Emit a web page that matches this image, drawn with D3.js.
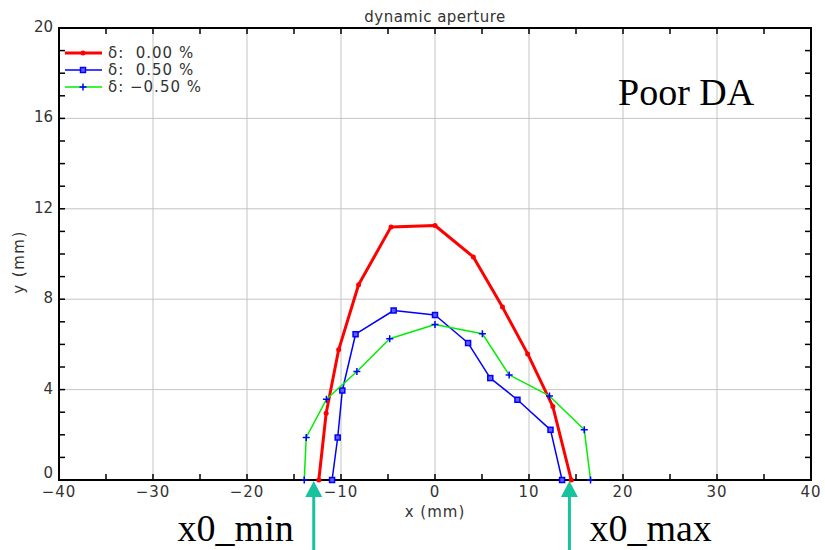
<!DOCTYPE html>
<html>
<head>
<meta charset="utf-8">
<script src="https://cdnjs.cloudflare.com/ajax/libs/d3/7.8.5/d3.min.js"></script>
<style>
  body { margin: 0; background: #fff; }
  .sans { font-family: "DejaVu Sans", sans-serif; }
  .serif { font-family: "Liberation Serif", "Times New Roman", serif; }
</style>
</head>
<body>
<svg id="chart" width="825" height="550"></svg>
<script>
// Data (x in mm, y in mm)
const redX   = [-12.36, -11.58, -10.25, -8.13, -4.68, 0, 4.08, 7.18, 9.86, 12.54, 14.5];
const redY   = [0, 2.95, 5.76, 8.64, 11.2, 11.26, 9.87, 7.65, 5.58, 3.25, 0];
const blueX  = [-10.95, -10.35, -9.86, -8.45, -4.40, 0, 3.52, 5.88, 8.77, 12.29, 13.52];
const blueY  = [0, 1.88, 3.96, 6.45, 7.50, 7.30, 6.06, 4.51, 3.55, 2.22, 0];
const greenX = [-13.91, -13.70, -11.55, -8.31, -4.82, 0, 5.04, 7.89, 12.18, 15.88, 16.55];
const greenY = [0, 1.88, 3.57, 4.80, 6.25, 6.88, 6.47, 4.65, 3.72, 2.22, 0];
const seriesNames = ["δ:  0.00 %", "δ:  0.50 %", "δ: −0.50 %"];
const xTicks = [-40, -30, -20, -10, 0, 10, 20, 30, 40];
const yTicks = [0, 4, 8, 12, 16, 20];
const arrowX = [-12.9, 14.3];
const arrowLabels = ["x0_min", "x0_max"];

const svg = d3.select("#chart");
const margin = { top: 28, right: 14, bottom: 70, left: 59 };
const width = 825 - margin.left - margin.right;
const height = 550 - margin.top - margin.bottom;

const g = svg.append("g")
  .attr("transform", `translate(${margin.left},${margin.top})`);

const x = d3.scaleLinear().domain([-40, 40]).range([0, width]);
const y = d3.scaleLinear().domain([0, 20]).range([height, 0]);

// Grid
g.append("g")
  .selectAll("line")
  .data(xTicks.slice(1, -1))
  .join("line")
  .attr("x1", d => x(d)).attr("x2", d => x(d))
  .attr("y1", 0).attr("y2", height)
  .attr("stroke", "#c4c4c4").attr("stroke-width", 1);
g.append("g")
  .selectAll("line")
  .data(yTicks.slice(1, -1))
  .join("line")
  .attr("x1", 0).attr("x2", width)
  .attr("y1", d => y(d)).attr("y2", d => y(d))
  .attr("stroke", "#c4c4c4").attr("stroke-width", 1);

// Frame ticks (inward), minor every 5 on x, every 1 on y
const xMinor = d3.range(-35, 40, 5);
const yMinor = d3.range(1, 20, 1);
const tickLen = 6;
const ticks = g.append("g").attr("stroke", "#000").attr("stroke-width", 1.5);
xMinor.forEach(v => {
  ticks.append("line").attr("x1", x(v)).attr("x2", x(v)).attr("y1", height).attr("y2", height - tickLen);
  ticks.append("line").attr("x1", x(v)).attr("x2", x(v)).attr("y1", 0).attr("y2", tickLen);
});
yMinor.forEach(v => {
  ticks.append("line").attr("x1", 0).attr("x2", tickLen).attr("y1", y(v)).attr("y2", y(v));
  ticks.append("line").attr("x1", width).attr("x2", width - tickLen).attr("y1", y(v)).attr("y2", y(v));
});

// Frame
g.append("rect")
  .attr("width", width).attr("height", height)
  .attr("fill", "none").attr("stroke", "#000").attr("stroke-width", 2);

// Tick labels
g.append("g")
  .selectAll("text")
  .data(xTicks)
  .join("text")
  .attr("class", "sans")
  .attr("x", d => x(d)).attr("y", height + 17)
  .attr("text-anchor", "middle")
  .attr("font-size", 15).attr("fill", "#333").attr("letter-spacing", 1)
  .text(d => d < 0 ? "−" + Math.abs(d) : d);
g.append("g")
  .selectAll("text")
  .data(yTicks)
  .join("text")
  .attr("class", "sans")
  .attr("x", -6).attr("y", d => y(d) + (d === 0 ? -2 : 4))
  .attr("text-anchor", "end")
  .attr("font-size", 15).attr("fill", "#333")
  .text(d => d);

// Axis labels and title
svg.append("text").attr("class", "sans")
  .attr("x", margin.left + x(0)).attr("y", 517)
  .attr("text-anchor", "middle").attr("font-size", 15).attr("fill", "#333")
  .attr("letter-spacing", 1)
  .text("x (mm)");
svg.append("text").attr("class", "sans")
  .attr("transform", "translate(24,262) rotate(-90)")
  .attr("text-anchor", "middle").attr("font-size", 15).attr("fill", "#333")
  .attr("letter-spacing", 1.5)
  .text("y (mm)");
svg.append("text").attr("class", "sans")
  .attr("x", margin.left + x(0)).attr("y", 22)
  .attr("text-anchor", "middle").attr("font-size", 15).attr("fill", "#333")
  .attr("letter-spacing", 0.5)
  .text("dynamic aperture");

// Series
const series = [
  { xs: redX, ys: redY, color: "#ff0000", w: 3, marker: "dot" },
  { xs: blueX, ys: blueY, color: "#0000ff", w: 1.5, marker: "square" },
  { xs: greenX, ys: greenY, color: "#00ee00", w: 1.5, marker: "plus" }
];
const line = d3.line().x(d => x(d[0])).y(d => y(d[1]));

function drawMarker(sel, type, cx, cy) {
  if (type === "dot") {
    sel.append("circle").attr("cx", cx).attr("cy", cy).attr("r", 2.5).attr("fill", "#ff0000");
  } else if (type === "square") {
    sel.append("rect").attr("x", cx - 2.5).attr("y", cy - 2.5).attr("width", 5).attr("height", 5)
      .attr("fill", "#6060ff").attr("stroke", "#0000ff").attr("stroke-width", 1.5);
  } else {
    sel.append("path").attr("d", `M${cx - 3.5},${cy}H${cx + 3.5}M${cx},${cy - 3.5}V${cy + 3.5}`)
      .attr("stroke", "#0000ff").attr("stroke-width", 1.5);
  }
}

series.forEach(s => {
  const pts = s.xs.map((v, i) => [v, s.ys[i]]);
  g.append("path").datum(pts)
    .attr("fill", "none").attr("stroke", s.color).attr("stroke-width", s.w)
    .attr("stroke-linejoin", "round")
    .attr("d", line);
  const mg = g.append("g");
  pts.forEach(p => drawMarker(mg, s.marker, x(p[0]), y(p[1])));
});

// Legend
const legend = svg.append("g");
series.forEach((s, i) => {
  const ly = 53 + i * 17;
  legend.append("line").attr("x1", 65).attr("x2", 102).attr("y1", ly).attr("y2", ly)
    .attr("stroke", s.color).attr("stroke-width", s.w);
  drawMarker(legend, s.marker, 83, ly);
  legend.append("text").attr("class", "sans").attr("x", 108).attr("y", ly + 5)
    .attr("font-size", 15).attr("fill", "#333").attr("letter-spacing", 1)
    .style("white-space", "pre")
    .text(seriesNames[i]);
});

// Annotation
svg.append("text").attr("class", "serif")
  .attr("x", 618).attr("y", 105)
  .attr("font-size", 38).attr("fill", "#000")
  .text("Poor DA");

const teal = "#16c39c";
arrowX.forEach((v, i) => {
  const ax = margin.left + x(v);
  const tip = margin.top + height + 1;
  svg.append("line").attr("x1", ax).attr("x2", ax).attr("y1", tip + 14).attr("y2", 550)
    .attr("stroke", teal).attr("stroke-width", 3);
  svg.append("path")
    .attr("d", `M${ax},${tip}L${ax - 8.5},${tip + 16}L${ax + 8.5},${tip + 16}Z`)
    .attr("fill", teal);
  svg.append("text").attr("class", "serif")
    .attr("x", i === 0 ? ax - 20 : ax + 20).attr("y", 541)
    .attr("text-anchor", i === 0 ? "end" : "start")
    .attr("font-size", 38).attr("fill", "#000")
    .text(arrowLabels[i]);
});
</script>
</body>
</html>
